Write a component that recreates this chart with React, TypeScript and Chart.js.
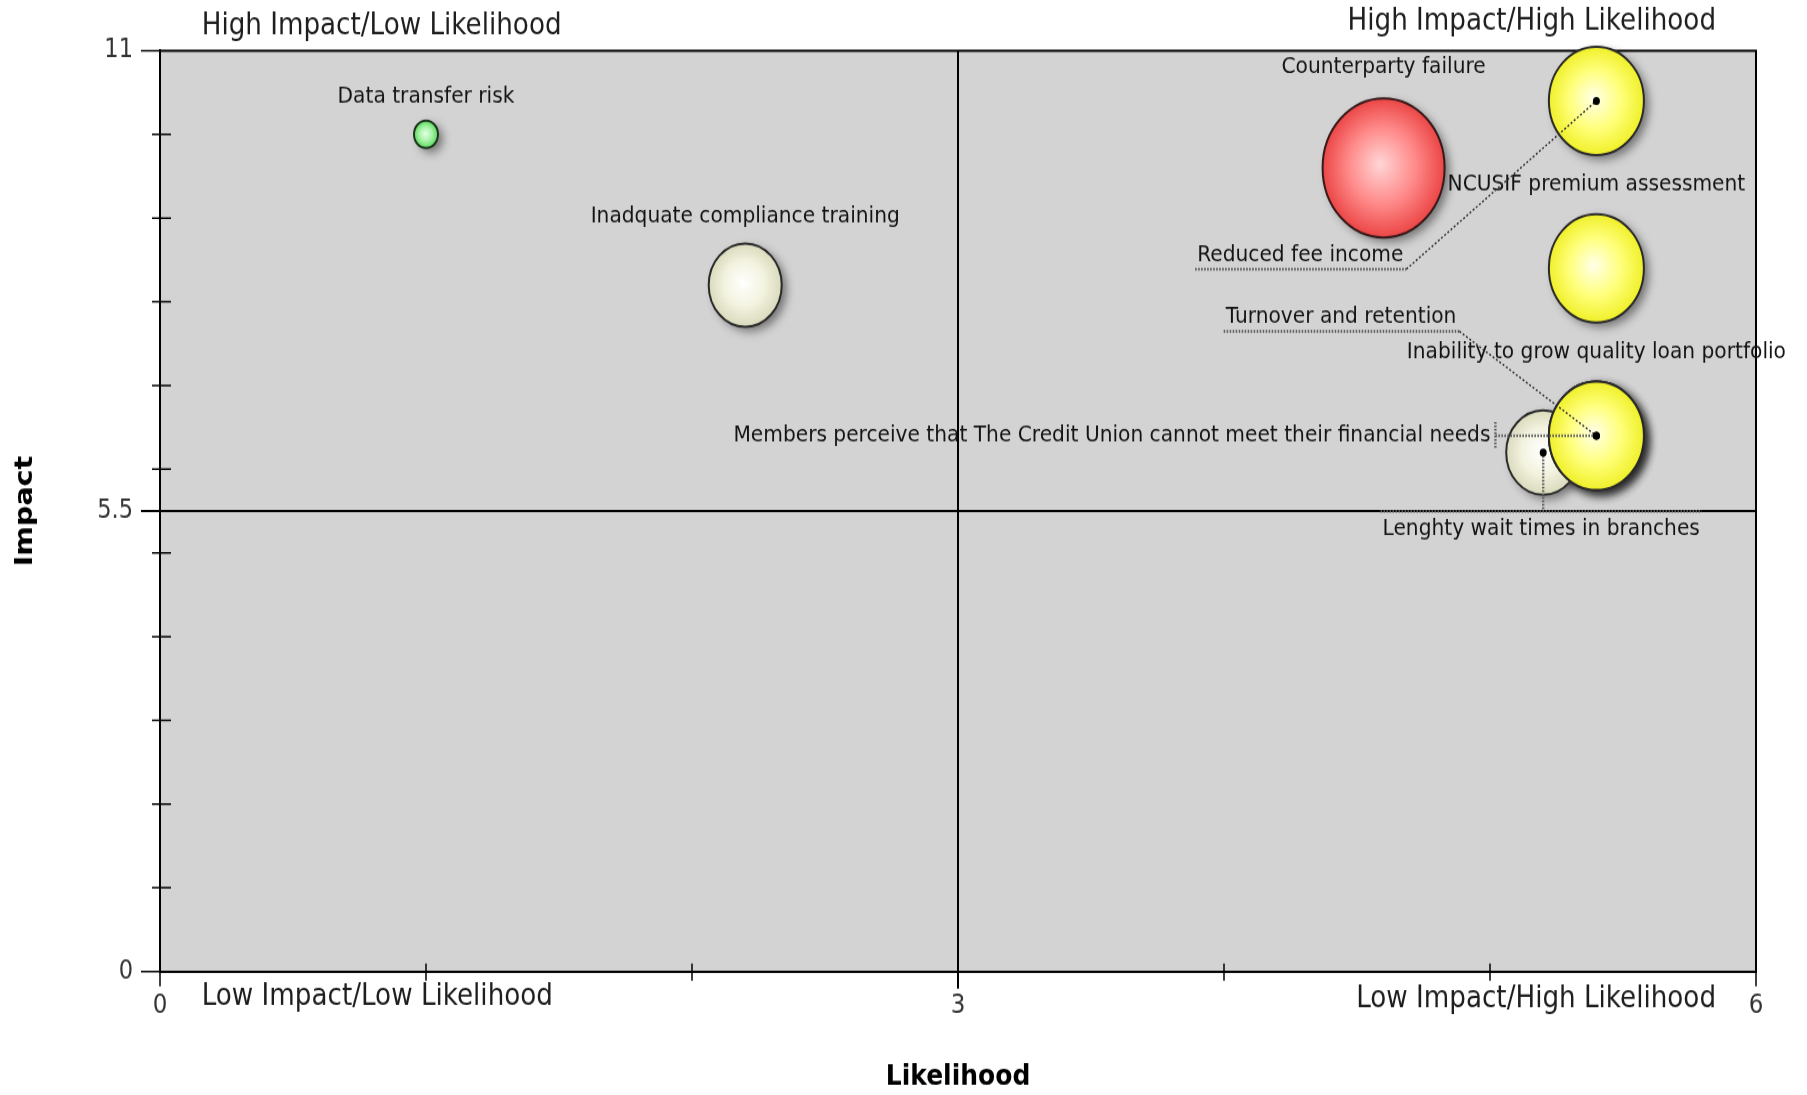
import React, { useEffect, useRef } from "react";
import { Chart, registerables } from "chart.js";

Chart.register(...registerables);

// ---------------- data ----------------
const riskNames = [
  "Data transfer risk",
  "Inadquate compliance training",
  "Counterparty failure",
  "Lenghty wait times in branches",
  "Reduced fee income",
  "NCUSIF premium assessment",
  "Turnover and retention",
  "Members perceive that The Credit Union cannot meet their financial needs",
  "Inability to grow quality loan portfolio",
];
const likelihood = [1.0, 2.2, 4.6, 5.2, 5.4, 5.4, 5.4, 5.4, 5.4];
const impact = [10.0, 8.2, 9.6, 6.2, 10.4, 8.4, 6.4, 6.4, 6.4];
const bubbleSize = [12, 36.5, 61, 37, 47.5, 47.5, 47.5, 47.5, 47.5];
const riskLevel = [
  "low",
  "moderate",
  "severe",
  "moderate",
  "elevated",
  "elevated",
  "elevated",
  "elevated",
  "elevated",
];

const xTickValues = [0, 1, 2, 3, 4, 5, 6];
const xTickLabels = ["0", "", "", "3", "", "", "6"];
const yTickValues = [0, 1, 2, 3, 4, 5, 5.5, 6, 7, 8, 9, 10, 11];
const yTickLabels = ["0", "", "", "", "", "", "5.5", "", "", "", "", "", "11"];
const likelihoodRange = [0, 6];
const impactRange = [0, 11];
const quadrantSplit = [3, 5.5];
const quadrantNames = [
  "High Impact/Low Likelihood",
  "High Impact/High Likelihood",
  "Low Impact/Low Likelihood",
  "Low Impact/High Likelihood",
];
const axisTitles = ["Likelihood", "Impact"];

// ---------------- styles / layout ----------------
const FONT = '"DejaVu Sans", "Liberation Sans", sans-serif';
const palette: Record<string, { inner: string; mid: string; outer: string; border: string }> = {
  low: { inner: "#e6ffe6", mid: "#a4f2a4", outer: "#5ad85a", border: "#1d361d" },
  moderate: { inner: "#ffffff", mid: "#f3f3e0", outer: "#dadabd", border: "#2a2a2a" },
  elevated: { inner: "#ffffea", mid: "#ffff7a", outer: "#f0f02a", border: "#2a2a2a" },
  severe: { inner: "#ffd6d6", mid: "#ff8a8a", outer: "#ec4646", border: "#381a1a" },
};

type Placement = { mode: "above" | "leader" | "side" | "below"; dx: number; dy: number };
const labelPlacement: Record<string, Placement> = {
  "Reduced fee income": { mode: "leader", dx: -193, dy: 135 },
  "Turnover and retention": { mode: "leader", dx: -140, dy: -104 },
  "Members perceive that The Credit Union cannot meet their financial needs": {
    mode: "side",
    dx: -106,
    dy: 0,
  },
  "Lenghty wait times in branches": { mode: "below", dx: -2, dy: 67 },
};

const CANVAS_W = 1807;
const CANVAS_H = 960;
const DISPLAY_H = 1095;

function bubbleFill(ctx: any) {
  const i = ctx.dataIndex;
  const pal = palette[riskLevel[i]] || palette.moderate;
  if (ctx.type !== "data") return pal.outer;
  const chart = ctx.chart;
  const xs = chart.scales && chart.scales.x;
  const ys = chart.scales && chart.scales.y;
  if (!xs || !ys) return pal.outer;
  const px = xs.getPixelForValue(likelihood[i]);
  const py = ys.getPixelForValue(impact[i]);
  const r = bubbleSize[i];
  if (!isFinite(px) || !isFinite(py) || !isFinite(r) || r <= 0) return pal.outer;
  const g = chart.ctx.createRadialGradient(px - r * 0.06, py - r * 0.06, 0, px, py, r);
  g.addColorStop(0, pal.inner);
  g.addColorStop(0.55, pal.mid);
  g.addColorStop(1, pal.outer);
  return g;
}

function bubbleBorder(ctx: any) {
  const pal = palette[riskLevel[ctx.dataIndex]] || palette.moderate;
  return pal.border;
}

const riskPlugin = {
  id: "riskMatrix",
  beforeDraw(chart: any) {
    const { ctx, chartArea: a } = chart;
    ctx.save();
    ctx.fillStyle = "#d3d3d3";
    ctx.fillRect(a.left, a.top, a.right - a.left, a.bottom - a.top);
    ctx.restore();
  },
  beforeDatasetsDraw(chart: any) {
    const { ctx, chartArea: a, scales } = chart;
    const xs = scales.x;
    const ys = scales.y;
    ctx.save();
    ctx.strokeStyle = "#000";
    ctx.lineWidth = 2;
    ctx.beginPath();
    ctx.moveTo(a.left, a.top);
    ctx.lineTo(a.right, a.top);
    ctx.lineTo(a.right, a.bottom);
    ctx.stroke();

    const qx = xs.getPixelForValue(quadrantSplit[0]);
    const qy = ys.getPixelForValue(quadrantSplit[1]);
    ctx.beginPath();
    ctx.moveTo(qx, a.top);
    ctx.lineTo(qx, a.bottom + 15);
    ctx.moveTo(a.left - 19, qy);
    ctx.lineTo(a.right, qy);
    ctx.stroke();

    ctx.lineWidth = 1.5;
    ctx.beginPath();
    xTickValues.forEach((v, i) => {
      const px = xs.getPixelForValue(v);
      const labeled = xTickLabels[i] !== "";
      ctx.moveTo(px, a.bottom - (labeled ? 0 : 7));
      ctx.lineTo(px, a.bottom + (labeled ? 13 : 8));
    });
    yTickValues.forEach((v, i) => {
      const py = ys.getPixelForValue(v);
      const labeled = yTickLabels[i] !== "";
      ctx.moveTo(a.left - (labeled ? 19 : 8), py);
      ctx.lineTo(a.left + (labeled ? 0 : 11), py);
    });
    ctx.stroke();

    // soft drop shadows under the bubbles
    const meta = chart.getDatasetMeta(0);
    meta.data.forEach((el: any, i: number) => {
      const r = bubbleSize[i];
      ctx.save();
      ctx.shadowColor = "rgba(0,0,0,0.45)";
      ctx.shadowBlur = 9;
      ctx.shadowOffsetX = 5;
      ctx.shadowOffsetY = 4;
      ctx.fillStyle = "#9a9a9a";
      ctx.beginPath();
      ctx.arc(el.x, el.y, r, 0, Math.PI * 2);
      ctx.fill();
      ctx.restore();
    });
    ctx.restore();
  },
  afterDatasetsDraw(chart: any) {
    const { ctx } = chart;
    const meta = chart.getDatasetMeta(0);
    ctx.save();
    ctx.font = `20.2px ${FONT}`;
    ctx.textBaseline = "middle";
    const lines: Array<() => void> = [];
    meta.data.forEach((el: any, i: number) => {
      const name = riskNames[i];
      const r = bubbleSize[i];
      const place = labelPlacement[name];
      const cx = el.x;
      const cy = el.y;
      ctx.fillStyle = "#141414";
      if (!place || place.mode === "above") {
        ctx.textAlign = "center";
        ctx.fillText(name, cx, cy - r - (19 + 0.14 * r));
        return;
      }
      const w = ctx.measureText(name).width;
      const tx = cx + place.dx;
      const ty = cy + place.dy;
      if (place.mode === "leader") {
        ctx.textAlign = "right";
        ctx.fillText(name, tx, ty);
        lines.push(() => {
          const uy = ty + 12.5;
          ctx.strokeStyle = "#5a5a5a";
          ctx.lineWidth = 2.4;
          ctx.setLineDash([1.5, 1.5]);
          ctx.beginPath();
          ctx.moveTo(tx - w - 2, uy);
          ctx.lineTo(tx + 3, uy);
          ctx.stroke();
          ctx.strokeStyle = "#333";
          ctx.lineWidth = 1.5;
          ctx.setLineDash([2, 2]);
          ctx.beginPath();
          ctx.moveTo(tx + 3, uy);
          ctx.lineTo(cx, cy);
          ctx.stroke();
        });
      } else if (place.mode === "side") {
        ctx.textAlign = "right";
        ctx.fillText(name, tx, ty);
        lines.push(() => {
          ctx.strokeStyle = "#5a5a5a";
          ctx.lineWidth = 2.4;
          ctx.setLineDash([1.5, 1.5]);
          ctx.beginPath();
          ctx.moveTo(tx + 5, ty - 12);
          ctx.lineTo(tx + 5, ty + 12);
          ctx.moveTo(tx + 5, ty);
          ctx.lineTo(cx, cy);
          ctx.stroke();
        });
      } else if (place.mode === "below") {
        ctx.textAlign = "center";
        ctx.fillText(name, tx, ty);
        lines.push(() => {
          const oy = ty - 15.5;
          ctx.strokeStyle = "#5a5a5a";
          ctx.lineWidth = 2.4;
          ctx.setLineDash([1.5, 1.5]);
          ctx.beginPath();
          ctx.moveTo(tx - w / 2 - 2, oy);
          ctx.lineTo(tx + w / 2 + 2, oy);
          ctx.moveTo(cx, cy);
          ctx.lineTo(cx, oy);
          ctx.stroke();
        });
      }
      lines.push(() => {
        ctx.setLineDash([]);
        ctx.fillStyle = "#000";
        ctx.beginPath();
        ctx.arc(cx, cy, 3.5, 0, Math.PI * 2);
        ctx.fill();
      });
    });
    lines.forEach((fn) => {
      ctx.save();
      fn();
      ctx.restore();
    });
    ctx.restore();
  },
  afterDraw(chart: any) {
    const { ctx, chartArea: a } = chart;
    ctx.save();
    ctx.font = `26.2px ${FONT}`;
    ctx.fillStyle = "#1e1e1e";
    ctx.textBaseline = "middle";
    ctx.textAlign = "left";
    ctx.fillText(quadrantNames[0], a.left + 41.7, a.top - 21.2);
    ctx.fillText(quadrantNames[2], a.left + 41.7, a.bottom + 22.3);
    ctx.textAlign = "right";
    ctx.fillText(quadrantNames[1], a.right - 40, a.top - 25);
    ctx.fillText(quadrantNames[3], a.right - 40, a.bottom + 24);
    ctx.restore();
  },
};

export default function App() {
  const canvasRef = useRef<HTMLCanvasElement | null>(null);

  useEffect(() => {
    const canvas = canvasRef.current;
    if (!canvas) return;
    const points = likelihood.map((x, i) => ({ x, y: impact[i], r: bubbleSize[i] }));
    const chart = new Chart(canvas, {
      type: "bubble",
      data: {
        datasets: [
          {
            label: "Risks",
            data: points,
            backgroundColor: bubbleFill as any,
            borderColor: bubbleBorder as any,
            borderWidth: 2,
            hoverRadius: 0,
            clip: false as any,
          },
        ],
      },
      options: {
        responsive: false,
        maintainAspectRatio: false,
        animation: false,
        events: [],
        layout: {
          autoPadding: false,
          padding: { top: 44.4, right: 51, left: 0, bottom: 0 },
        },
        plugins: {
          legend: { display: false },
          tooltip: { enabled: false },
        },
        scales: {
          x: {
            type: "linear",
            position: "bottom",
            min: likelihoodRange[0],
            max: likelihoodRange[1],
            afterBuildTicks: (scale: any) => {
              scale.ticks = xTickValues.map((v) => ({ value: v }));
            },
            afterFit: (scale: any) => {
              scale.height = 108.3;
            },
            ticks: {
              autoSkip: false,
              maxRotation: 0,
              padding: 8,
              color: "#333",
              font: { family: FONT, size: 23 },
              callback: (value: any) => {
                const idx = xTickValues.indexOf(Number(value));
                return idx >= 0 ? xTickLabels[idx] : "";
              },
            },
            grid: {
              display: true,
              drawOnChartArea: false,
              drawTicks: true,
              tickLength: 9,
              color: "rgba(0,0,0,0)",
              tickColor: "rgba(0,0,0,0)",
            },
            border: { display: true, color: "#000", width: 2 },
            title: {
              display: true,
              text: axisTitles[0],
              color: "#000",
              font: { family: FONT, size: 25, weight: "bold" },
              padding: { top: 0, bottom: 1 },
            },
          },
          y: {
            type: "linear",
            position: "left",
            min: impactRange[0],
            max: impactRange[1],
            afterBuildTicks: (scale: any) => {
              scale.ticks = yTickValues.map((v) => ({ value: v }));
            },
            afterFit: (scale: any) => {
              scale.width = 160;
            },
            ticks: {
              autoSkip: false,
              padding: 18,
              color: "#333",
              font: { family: FONT, size: 22.5 },
              callback: (value: any) => {
                const idx = yTickValues.indexOf(Number(value));
                return idx >= 0 ? yTickLabels[idx] : "";
              },
            },
            grid: {
              display: true,
              drawOnChartArea: false,
              drawTicks: true,
              tickLength: 9,
              color: "rgba(0,0,0,0)",
              tickColor: "rgba(0,0,0,0)",
            },
            border: { display: true, color: "#000", width: 2 },
            title: {
              display: true,
              text: axisTitles[1],
              color: "#000",
              font: { family: FONT, size: 25, weight: "bold" },
              padding: { top: 10.4, bottom: 0 },
            },
          },
        },
      } as any,
      plugins: [riskPlugin as any],
    });
    return () => chart.destroy();
  }, []);

  return (
    <div
      style={{
        position: "absolute",
        left: 0,
        top: 0,
        width: CANVAS_W,
        height: DISPLAY_H,
        overflow: "hidden",
        background: "#ffffff",
      }}
    >
      <canvas
        ref={canvasRef}
        width={CANVAS_W}
        height={CANVAS_H}
        style={{ width: `${CANVAS_W}px`, height: `${DISPLAY_H}px`, display: "block" }}
      />
    </div>
  );
}
